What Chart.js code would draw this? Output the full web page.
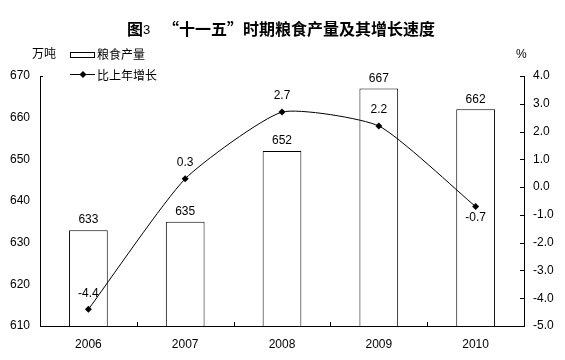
<!DOCTYPE html>
<html><head><meta charset="utf-8">
<script src="https://cdn.jsdelivr.net/npm/chart.js@4"></script>
<style>html,body{margin:0;padding:0;background:#fff;}</style>
</head><body>
<canvas id="c" width="565" height="360"></canvas>
<script>
const categories = ['2006', '2007', '2008', '2009', '2010'];
const grainOutput = [633, 635, 652, 667, 662];
const growthRate = [-4.4, 0.3, 2.7, 2.2, -0.7];
const leftAxisRange = [610, 670, 10];
const rightAxisRange = [-5, 4, 1];
const growthLabelSide = ['top', 'top', 'top', 'top', 'bottom'];

const NUM_FONT = '12px "Liberation Sans", Arial, sans-serif';
const CJK_FONT = '"Noto Sans CJK SC", sans-serif';

const overlay = {
  id: 'overlay',
  afterDraw(chart) {
    const ctx = chart.ctx;
    const ca = chart.chartArea;
    const x = chart.scales.x, y = chart.scales.y, y1 = chart.scales.y1;
    ctx.save();
    ctx.fillStyle = '#000';
    ctx.strokeStyle = '#000';
    ctx.lineWidth = 1;
    // Title
    ctx.textBaseline = 'middle';
    ctx.textAlign = 'left';
    ctx.font = 'bold 16px ' + CJK_FONT;
    ctx.fillText('图', 127, 29);
    ctx.font = '13px "Liberation Sans", Arial, sans-serif';
    ctx.fillText('3', 143, 30);
    ctx.font = 'bold 16px ' + CJK_FONT;
    ctx.fillText('“十一五”时期粮食产量及其增长速度', 163, 29);
    // Units
    ctx.font = '12px ' + CJK_FONT;
    ctx.fillText('万吨', 32, 53);
    ctx.font = NUM_FONT;
    ctx.fillText('%', 516, 55);
    // Legend
    ctx.strokeRect(70.5, 52.5, 24, 5);
    ctx.font = '12px ' + CJK_FONT;
    ctx.fillText('粮食产量', 97, 54);
    ctx.beginPath(); ctx.moveTo(70, 74.5); ctx.lineTo(95, 74.5); ctx.stroke();
    ctx.beginPath(); ctx.moveTo(83, 71); ctx.lineTo(86.5, 74.5); ctx.lineTo(83, 78); ctx.lineTo(79.5, 74.5); ctx.closePath(); ctx.fill();
    ctx.fillText('比上年增长', 97, 75);
    // inner ticks on right axis
    y1.ticks.forEach(t => {
      const py = Math.round(y1.getPixelForValue(t.value)) + 0.5;
      ctx.beginPath(); ctx.moveTo(ca.right - 4, py); ctx.lineTo(ca.right, py); ctx.stroke();
    });
    // top tick on left axis
    const ty = Math.round(y.getPixelForValue(leftAxisRange[1])) + 0.5;
    ctx.beginPath(); ctx.moveTo(ca.left, ty); ctx.lineTo(ca.left + 3, ty); ctx.stroke();
    // category boundary ticks on x axis
    for (let i = 1; i < categories.length; i++) {
      const px = Math.round((x.getPixelForValue(i - 1) + x.getPixelForValue(i)) / 2) + 0.5;
      ctx.beginPath(); ctx.moveTo(px, ca.bottom); ctx.lineTo(px, ca.bottom - 4); ctx.stroke();
    }
    // Data labels
    ctx.font = NUM_FONT;
    ctx.textAlign = 'center';
    const barMeta = chart.getDatasetMeta(0);
    barMeta.data.forEach((el, i) => {
      ctx.fillText(String(grainOutput[i]), el.x, el.y - 10);
    });
    const lineMeta = chart.getDatasetMeta(1);
    lineMeta.data.forEach((el, i) => {
      const dy = growthLabelSide[i] === 'top' ? -16 : 11;
      ctx.fillText(growthRate[i].toFixed(1), el.x, el.y + dy);
    });
    ctx.restore();
  }
};

new Chart(document.getElementById('c'), {
  data: {
    labels: categories,
    datasets: [
      {
        type: 'bar', label: '粮食产量', data: grainOutput, yAxisID: 'y',
        backgroundColor: '#fff', borderColor: '#000', borderWidth: 1,
        barPercentage: 0.4, categoryPercentage: 1, order: 2
      },
      {
        type: 'line', label: '比上年增长', data: growthRate, yAxisID: 'y1',
        borderColor: '#000', borderWidth: 1, tension: 0.18, fill: false,
        pointStyle: 'rectRot', pointRadius: 3.5, pointBackgroundColor: '#000',
        pointBorderColor: '#000', pointBorderWidth: 0, order: 1
      }
    ]
  },
  options: {
    responsive: false, animation: false, devicePixelRatio: 1,
    layout: { padding: { top: 76, left: 0, right: 0, bottom: 0 } },
    plugins: { legend: { display: false }, title: { display: false }, tooltip: { enabled: false } },
    scales: {
      x: {
        grid: { display: true, drawOnChartArea: false, drawTicks: false },
        border: { color: '#000', width: 1 },
        ticks: { color: '#000', font: { family: '"Liberation Sans", Arial, sans-serif', size: 12 }, padding: 11 },
        afterFit(s) { s.height = 34; }
      },
      y: {
        position: 'left', min: leftAxisRange[0], max: leftAxisRange[1],
        grid: { display: true, drawOnChartArea: false, drawTicks: false },
        border: { color: '#000', width: 1 },
        ticks: { stepSize: leftAxisRange[2], color: '#000', font: { family: '"Liberation Sans", Arial, sans-serif', size: 12 }, padding: 10 },
        afterFit(s) { s.width = 40; }
      },
      y1: {
        position: 'right', min: rightAxisRange[0], max: rightAxisRange[1],
        grid: { display: true, drawOnChartArea: false, drawTicks: false },
        border: { color: '#000', width: 1 },
        ticks: { stepSize: rightAxisRange[2], color: '#000', font: { family: '"Liberation Sans", Arial, sans-serif', size: 12 }, padding: 9,
          callback: v => Number(v).toFixed(1) },
        afterFit(s) { s.width = 41; }
      }
    }
  },
  plugins: [overlay]
});
</script>
</body></html>
